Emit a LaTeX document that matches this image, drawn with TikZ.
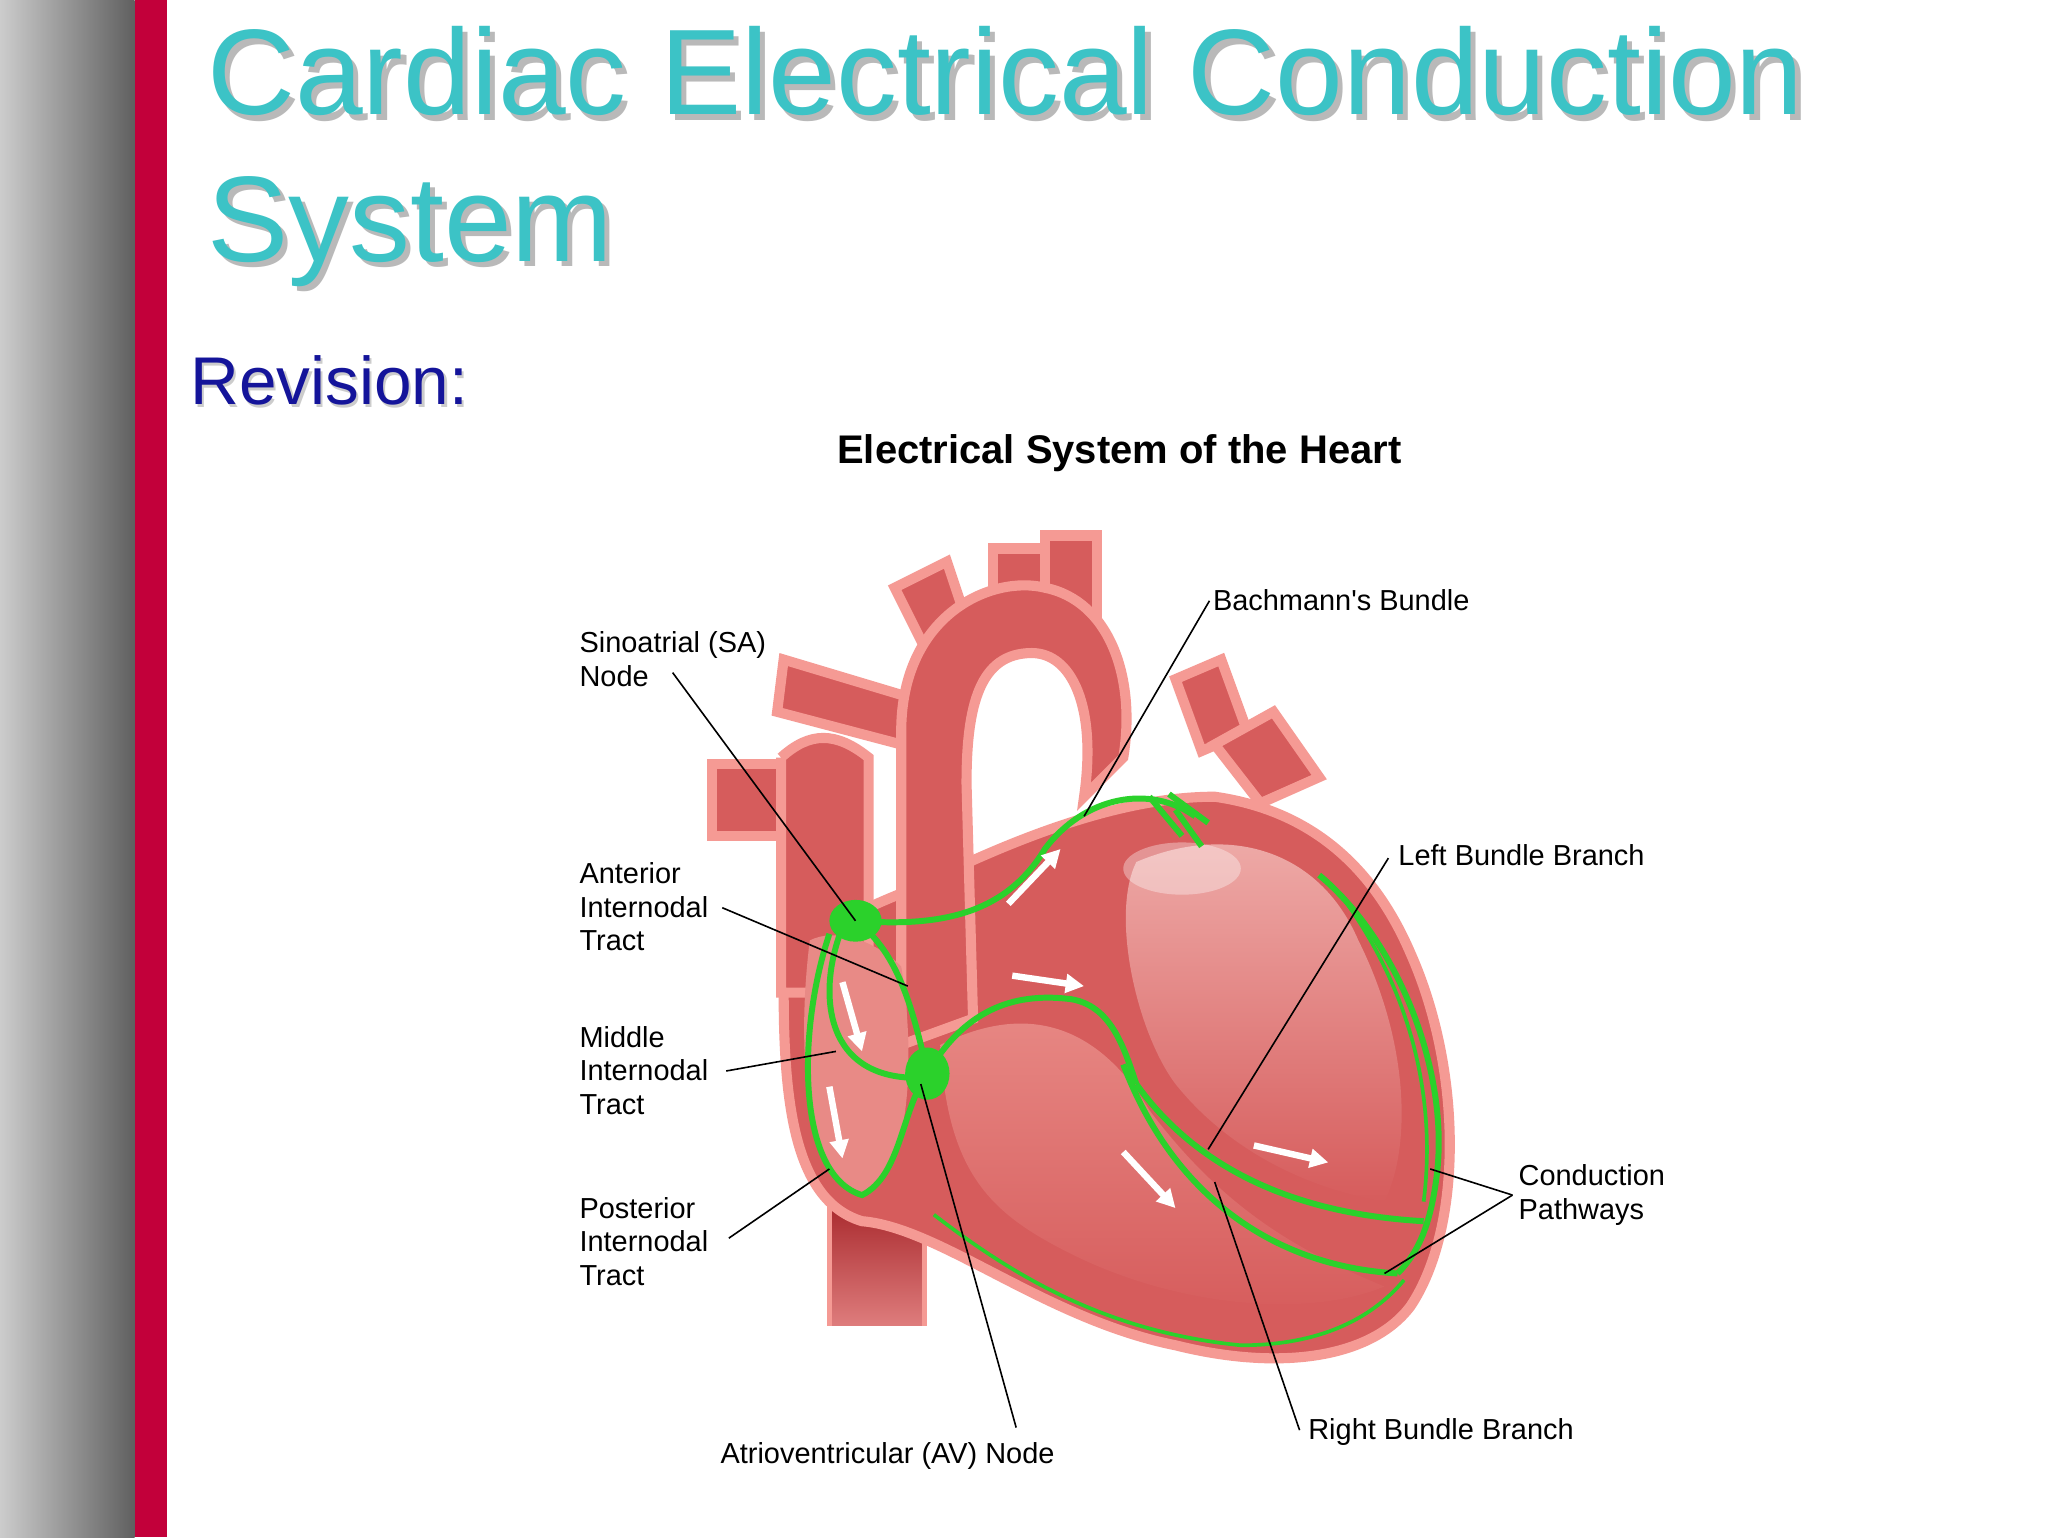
\documentclass[tikz,border=0pt]{standalone}
\usepackage{fontspec}
\setmainfont{Liberation Sans}
\usetikzlibrary{arrows.meta}
\definecolor{teal1}{HTML}{3CC3C6}
\definecolor{revblue}{HTML}{14149A}
\definecolor{barred}{HTML}{C2003A}
\definecolor{heart}{HTML}{D65C5C}
\definecolor{heartlight}{HTML}{E88A86}
\definecolor{rim}{HTML}{F59A94}
\definecolor{darkred}{HTML}{A8282C}
\definecolor{cond}{HTML}{2BD12B}
\tikzset{
 lbl/.style={font=\fontsize{6.3}{7.3}\selectfont, align=left, anchor=north west, inner sep=0pt},
 lead/.style={draw=black, line width=0.35pt},
 tissue/.style={fill=heart, draw=rim, line width=2.2pt},
 cavity/.style={fill=heartlight, draw=none},
 path/.style={draw=cond, line width=1.3pt},
 flow/.style={draw=white, line width=1.4pt, -{Triangle[width=4pt,length=4pt]}},
}
\begin{document}
\begin{tikzpicture}[x=0.01cm,y=-0.01cm]
\useasboundingbox (0,0) rectangle (1568,1177);
\fill[white] (0,0) rectangle (1568,1177);
\shade[left color=gray!40, right color=gray!75!black] (0,0) rectangle (103,1177);
\fill[barred] (103,0) rectangle (128,1177);
% title
\foreach \dx/\c in {4/gray!55, 0/teal1}{
 \node[anchor=base west, inner sep=0pt, text=\c, font=\fontsize{26.5}{32}\selectfont] (t1\dx) at (158+\dx,88+\dx) {Cardiac Electrical Conduction};
 \node[anchor=base west, inner sep=0pt, text=\c, font=\fontsize{26.5}{32}\selectfont] (t2\dx) at (158+\dx,200+\dx) {System};
}
\node[anchor=base west, inner sep=0pt, text=gray!40, font=\fontsize{14.7}{18}\selectfont] (rv0) at (147,312) {Revision:};
\node[anchor=base west, inner sep=0pt, text=revblue, font=\fontsize{14.7}{18}\selectfont] (rv) at (145,310) {Revision:};
\node[inner sep=0pt, font=\bfseries\fontsize{8.7}{10}\selectfont] (head) at (857,347) {Electrical System of the Heart};
% vessels
\draw[tissue] (545,585) rectangle (610,640);
\draw[tissue] (600,505) -- (700,535) -- (690,570) -- (595,545) -- cycle;
\draw[tissue] (685,450) -- (725,430) -- (745,490) -- (710,500) -- cycle;
\draw[tissue] (760,420) rectangle (800,480);
\draw[tissue] (800,410) rectangle (840,470);
\draw[tissue] (900,520) -- (935,505) -- (955,560) -- (920,575) -- cycle;
\draw[tissue] (930,570) -- (975,545) -- (1010,595) -- (965,615) -- cycle;
% IVC
\shade[top color=darkred, bottom color=heart!80] (635,920) rectangle (708,1015);
\draw[draw=rim,line width=1pt] (635,920) -- (635,1015) (708,920) -- (708,1015);
% main body
\draw[tissue] (600,760) .. controls (600,850) and (610,920) .. (660,935)
  .. controls (720,940) and (800,1010) .. (900,1030)
  .. controls (980,1050) and (1050,1040) .. (1080,1000)
  .. controls (1120,940) and (1120,820) .. (1080,730)
  .. controls (1050,660) and (1000,620) .. (930,610)
  .. controls (860,610) and (780,640) .. (700,680)
  .. controls (650,700) and (605,720) .. (600,760) -- cycle;
% SVC
\draw[tissue] (598,580) -- (598,760) -- (665,760) -- (665,580) .. controls (640,560) and (620,560) .. (598,580);
% aorta
\draw[tissue] (690,800) -- (690,560) .. controls (690,470) and (760,440) .. (800,450)
  .. controls (850,460) and (870,520) .. (860,580) -- (830,610)
  .. controls (840,540) and (820,500) .. (790,500)
  .. controls (750,500) and (740,540) .. (740,600) -- (745,780) -- cycle;
% cavities
\fill[cavity] (620,720) .. controls (610,800) and (615,900) .. (660,915) .. controls (700,900) and (700,800) .. (690,740) .. controls (670,720) and (640,710) .. (620,720);
\shade[top color=heartlight, bottom color=heart] (720,800) .. controls (800,760) and (850,800) .. (880,850)
  .. controls (940,930) and (1000,960) .. (1060,985)
  .. controls (1000,1010) and (900,1000) .. (820,960)
  .. controls (760,930) and (725,900) .. (720,800);
\shade[top color=heartlight!70!white, bottom color=heart] (870,660) .. controls (940,630) and (1010,650) .. (1040,720)
  .. controls (1080,800) and (1080,880) .. (1060,920)
  .. controls (1000,910) and (940,880) .. (900,830)
  .. controls (870,790) and (850,700) .. (870,660);
\fill[white,opacity=0.35] (905,665) ellipse (45 and 20);
% conduction
\draw[path] (655,705) .. controls (720,710) and (770,700) .. (800,650) .. controls (830,610) and (880,600) .. (915,625);
\draw[path] (880,610) -- (905,640) (895,608) -- (925,630) (900,620) -- (920,648);
\draw[path] (655,705) .. controls (690,730) and (700,780) .. (710,820);
\draw[path] (645,710) .. controls (625,760) and (630,830) .. (710,825);
\draw[path] (635,715) .. controls (610,790) and (610,900) .. (660,915) .. controls (690,900) and (690,850) .. (710,822);
\draw[path] (710,822) .. controls (740,770) and (780,760) .. (820,765) .. controls (850,770) and (860,800) .. (870,830);
\draw[path] (870,830) .. controls (920,900) and (1000,930) .. (1090,935);
\draw[path] (860,815) .. controls (900,920) and (980,970) .. (1070,975);
\draw[path] (1010,670) .. controls (1070,720) and (1110,820) .. (1100,900) .. controls (1095,940) and (1085,960) .. (1070,975);
\draw[path,line width=0.8pt] (715,930) .. controls (780,980) and (850,1020) .. (950,1030) .. controls (1010,1030) and (1050,1010) .. (1075,980);
\draw[path,line width=0.8pt] (1030,690) .. controls (1080,760) and (1100,840) .. (1090,920);
\fill[cond] (655,705) ellipse (20 and 16);
\fill[cond] (710,822) ellipse (17 and 20);
% flow arrows
\draw[flow] (772,692) -- (812,650);
\draw[flow] (775,747) -- (830,755);
\draw[flow] (645,752) -- (660,805);
\draw[flow] (635,832) -- (645,887);
\draw[flow] (860,882) -- (900,925);
\draw[flow] (960,877) -- (1017,890);
% anchors
\coordinate (sa) at (655,705); \coordinate (bb) at (830,625);
\coordinate (ant) at (695,755); \coordinate (mid) at (640,805);
\coordinate (post) at (635,895); \coordinate (av) at (705,830);
\coordinate (lbb) at (925,880); \coordinate (rbb) at (930,905);
\coordinate (cp1) at (1095,895); \coordinate (cp2) at (1060,975);
% labels
\node[lbl] (lsa) at (443,483) {Sinoatrial (SA)\\Node};
\node[lbl] (lbbach) at (928,451) {Bachmann\textquotesingle s Bundle};
\node[lbl] (lant) at (443,660) {Anterior\\Internodal\\Tract};
\node[lbl] (lmid) at (443,785) {Middle\\Internodal\\Tract};
\node[lbl] (lpost) at (443,916) {Posterior\\Internodal\\Tract};
\node[lbl] (llbb) at (1070,646) {Left Bundle Branch};
\node[lbl] (lcp) at (1162,891) {Conduction\\Pathways};
\node[lbl] (lrbb) at (1001,1085) {Right Bundle Branch};
\node[lbl] (lav) at (551,1104) {Atrioventricular (AV) Node};
\coordinate (e1) at (515,515); \coordinate (e2) at (926,460);
\coordinate (e3) at (553,695); \coordinate (e4) at (556,820);
\coordinate (e5) at (558,948); \coordinate (e6) at (1063,657);
\coordinate (e7) at (1158,915); \coordinate (e8) at (995,1095);
\coordinate (e9) at (778,1093);
\draw[lead] (e1) -- (sa); \draw[lead] (e2) -- (bb); \draw[lead] (e3) -- (ant);
\draw[lead] (e4) -- (mid); \draw[lead] (e5) -- (post); \draw[lead] (e6) -- (lbb);
\draw[lead] (e7) -- (cp1); \draw[lead] (e7) -- (cp2); \draw[lead] (e8) -- (rbb);
\draw[lead] (e9) -- (av);
\end{tikzpicture}
\end{document}
